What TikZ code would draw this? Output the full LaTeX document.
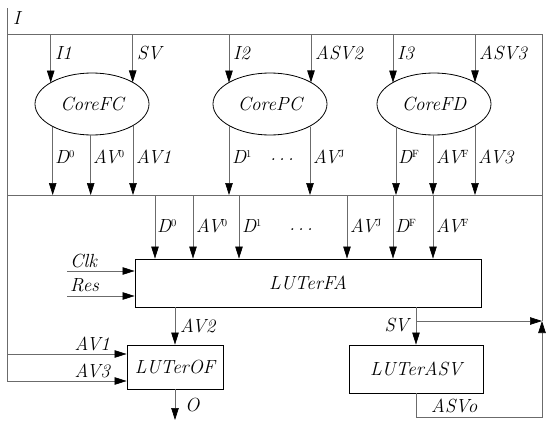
\documentclass[tikz,border=0pt]{standalone}
\usepackage{fontspec}
\usetikzlibrary{arrows.meta,shapes.geometric}
\newcommand\supx[1]{\raisebox{0.8ex}{\fontsize{10.5}{10.5}\selectfont\upshape #1}}
\begin{document}
\begin{tikzpicture}[x=1pt,y=-1pt,
  wire/.style={draw=black!58, line width=0.7pt},
  arr/.style={wire, -{Triangle[black,length=12pt,width=7.5pt]}},
  lbl/.style={font=\fontsize{19}{22}\selectfont\itshape, inner sep=1pt},
  core/.style={draw=black, line width=0.8pt, ellipse, minimum width=114pt, minimum height=62pt, inner sep=0pt, font=\fontsize{19}{22}\selectfont\itshape},
  blk/.style={draw=black, line width=0.8pt, rectangle, inner sep=0pt, font=\fontsize{19}{22}\selectfont\itshape}]
\useasboundingbox (0,0) rectangle (550,426);
% frame and buses
\coordinate (tl) at (7,34);
\coordinate (tr) at (542,34);
\coordinate (top) at (7,8);
\coordinate (bl) at (7,195);
\coordinate (br) at (542,195);
\coordinate (merge) at (542,321);
\draw[wire] (tl) -- (tr);
\draw[wire] (bl) -- (br);
\draw[wire] (top) -- (7,381);
\draw[wire] (tr) -- (merge);
\node[lbl, anchor=west] (Ilbl) at (12,18) {I};
% cores
\node[core] (fc) at (92,104) {CoreFC};
\node[core] (pc) at (270,104) {CorePC};
\node[core] (fd) at (434,104) {CoreFD};
% inputs to cores
\draw[arr] (50.7,34) -- (50.7,82.6);
\draw[arr] (132.7,34) -- (132.7,82.4);
\draw[arr] (229,34) -- (229,82.6);
\draw[arr] (311,34) -- (311,82.4);
\draw[arr] (393,34) -- (393,82.6);
\draw[arr] (475,34) -- (475,82.4);
\node[lbl, anchor=west] at (54,53) {I1};
\node[lbl, anchor=west] at (136,53) {SV};
\node[lbl, anchor=west] at (232,53) {I2};
\node[lbl, anchor=west] at (314,53) {ASV2};
\node[lbl, anchor=west] at (396,53) {I3};
\node[lbl, anchor=west] at (478,53) {ASV3};
% outputs from cores
\draw[arr] (52.7,126.5) -- (52.7,195);
\draw[arr] (90.7,135) -- (90.7,195);
\draw[arr] (133,125.5) -- (133,195);
\draw[arr] (229,126.3) -- (229,195);
\draw[arr] (310,126.8) -- (310,195);
\draw[arr] (396,126.8) -- (396,195);
\draw[arr] (433,135) -- (433,195);
\draw[arr] (475,125.6) -- (475,195);
\node[lbl, anchor=west] at (54,157) {D\supx{0}};
\node[lbl, anchor=west] at (92,157) {AV\supx{0}};
\node[lbl, anchor=west] at (135,157) {AV1};
\node[lbl, anchor=west] at (231,157) {D\supx{1}};
\node[lbl] at (282,160) {.\,.\,.};
\node[lbl, anchor=west] at (312,157) {AV\supx{J}};
\node[lbl, anchor=west] at (397,157) {D\supx{F}};
\node[lbl, anchor=west] at (435,157) {AV\supx{F}};
\node[lbl, anchor=west] at (477,157) {AV3};
% LUTerFA
\node[blk, minimum width=346pt, minimum height=48pt] (fa) at (308,283) {LUTerFA};
\draw[arr] (155,195) -- (155,0 |- fa.north);
\draw[arr] (193,195) -- (193,0 |- fa.north);
\draw[arr] (239,195) -- (239,0 |- fa.north);
\draw[arr] (347,195) -- (347,0 |- fa.north);
\draw[arr] (393,195) -- (393,0 |- fa.north);
\draw[arr] (433,195) -- (433,0 |- fa.north);
\node[lbl, anchor=west] at (156,226) {D\supx{0}};
\node[lbl, anchor=west] at (195,226) {AV\supx{0}};
\node[lbl, anchor=west] at (241,226) {D\supx{1}};
\node[lbl] at (301,230) {.\,.\,.};
\node[lbl, anchor=west] at (349,226) {AV\supx{J}};
\node[lbl, anchor=west] at (394,226) {D\supx{F}};
\node[lbl, anchor=west] at (435,226) {AV\supx{F}};
% Clk Res
\coordinate (clk) at (67,271);
\coordinate (res) at (67,296);
\draw[arr] (clk) -- (clk -| fa.west);
\draw[arr] (res) -- (res -| fa.west);
\node[lbl, anchor=west] at (69,261) {Clk};
\node[lbl, anchor=west] at (69,285) {Res};
% LUTerOF
\node[blk, minimum width=96pt, minimum height=44pt] (of) at (175,367) {LUTerOF};
\draw[arr] (175,0 |- fa.south) -- (of.north);
\node[lbl, anchor=west] at (179,326) {AV2};
\coordinate (av1) at (7,354);
\coordinate (av3) at (7,381);
\draw[arr] (av1) -- (av1 -| of.west);
\draw[arr] (av3) -- (av3 -| of.west);
\node[lbl, anchor=east] at (111,344) {AV1};
\node[lbl, anchor=east] at (111,371) {AV3};
\coordinate (o) at (175,420);
\draw[arr] (of.south) -- (o);
\node[lbl, anchor=west] at (184,405) {O};
% LUTerASV
\node[blk, minimum width=134pt, minimum height=48pt] (asv) at (416,369) {LUTerASV};
\draw[arr] (416,0 |- fa.south) -- (416,0 |- asv.north);
\node[lbl, anchor=east] at (410,325) {SV};
\draw[arr] (416,321) -- (merge);
\coordinate (asvo) at (416,417);
\draw[arr] (416,0 |- asv.south) -- (asvo) -- (542,417) -- (merge);
\node[lbl, anchor=west] at (430,406) {ASVo};
\end{tikzpicture}
\end{document}
